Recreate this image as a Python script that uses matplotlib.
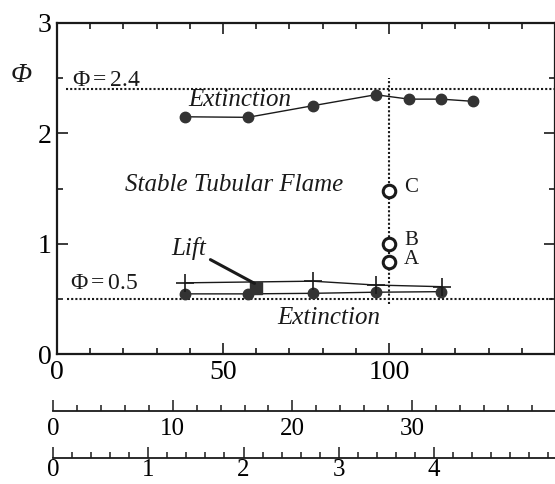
import matplotlib
matplotlib.use("Agg")
import matplotlib.pyplot as plt
from matplotlib.ticker import MultipleLocator

plt.rcParams['font.family'] = ['Liberation Serif', 'DejaVu Serif']
plt.rcParams['mathtext.fontset'] = 'custom'
plt.rcParams['mathtext.rm'] = 'Liberation Serif'
plt.rcParams['mathtext.it'] = 'Liberation Serif:italic'

# ---- data ----
upper_x = [38.5, 57.5, 77, 96, 106, 115.7, 125.3]
upper_phi = [2.15, 2.145, 2.25, 2.35, 2.31, 2.31, 2.29]

lower_x = [38.5, 57.5, 77, 96, 115.7]
lower_phi = [0.545, 0.545, 0.55, 0.56, 0.565]

lift_x = [38.5, 77, 96, 116]
lift_phi = [0.645, 0.66, 0.625, 0.61]

lift_pt_x = [60]
lift_pt_phi = [0.6]

abc_x = [100, 100, 100]
abc_phi = [0.83, 1.0, 1.48]
abc_labels = ['A', 'B', 'C']

phi_rich = 2.4
phi_lean = 0.5

main_xticks = [0, 50, 100]
sec1_xticks = [0, 10, 20, 30]
sec2_xticks = [0, 1, 2, 3, 4]

W, H = 555, 484
fig = plt.figure(figsize=(W / 100, H / 100), dpi=100)
ink = '#1a1a1a'

def fx(px):
    return px / W

def fy(py):
    return 1 - py / H

ax = fig.add_axes([fx(57), fy(354), fx(555 - 57), (354 - 23) / H])
ax.set_xlim(0, 150)
ax.set_ylim(0, 3)
for s in ax.spines.values():
    s.set_linewidth(1.6)
    s.set_color(ink)

ax.xaxis.set_major_locator(MultipleLocator(50))
ax.xaxis.set_minor_locator(MultipleLocator(10))
ax.yaxis.set_major_locator(MultipleLocator(1))
ax.yaxis.set_minor_locator(MultipleLocator(0.5))
ax.tick_params(which='both', direction='in', top=True, right=True, color=ink, width=1.2)
ax.tick_params(which='major', length=8)
ax.tick_params(which='minor', length=4)
ax.tick_params(axis='x', which='major', labelsize=20, pad=4)
ax.tick_params(axis='y', which='major', labelsize=20, pad=4)
ax.set_xticks(main_xticks)
ax.set_xticklabels([str(t) for t in main_xticks])
ax.set_yticks([0, 1, 2, 3])

# reference lines
ax.plot([2.7, 150], [phi_rich, phi_rich], ls=(0, (1, 1)), lw=1.5, color=ink)
ax.plot([3, 150], [phi_lean, phi_lean], ls=(0, (1, 1)), lw=1.5, color=ink)
ax.plot([100, 100], [0.45, 2.5], ls=(0, (1, 1)), lw=1.5, color=ink)

# data
ax.plot(upper_x, upper_phi, '-o', color=ink, lw=1.0, ms=7.5, mfc='#333333', mec='#333333')
ax.plot(lower_x, lower_phi, '-o', color=ink, lw=1.0, ms=7.5, mfc='#333333', mec='#333333')
ax.plot(lift_x, lift_phi, '-+', color=ink, lw=1.0, ms=13, mew=1.2)
ax.plot(lift_pt_x, lift_pt_phi, 's', color='#333333', ms=9)
ax.plot(abc_x, abc_phi, 'o', mfc='white', mec=ink, mew=2.2, ms=9, ls='none')
for x, y, lab in zip(abc_x, abc_phi, abc_labels):
    ax.text(x + 4.5, y + 0.03, lab, fontsize=15, ha='left', va='center', color=ink)

# texts
ax.text(4.5, 2.48, r'$\Phi{=}\mathit{2.4}$', fontsize=17, ha='left', va='center', color=ink)
ax.text(3.8, 0.64, r'$\Phi{=}\mathit{0.5}$', fontsize=17, ha='left', va='center', color=ink)
ax.text(39.5, 2.3, 'Extinction', fontsize=18, style='italic', ha='left', va='center', color=ink)
ax.text(66.5, 0.33, 'Extinction', fontsize=18, style='italic', ha='left', va='center', color=ink)
ax.text(20.5, 1.53, 'Stable Tubular Flame', fontsize=18, style='italic', ha='left', va='center', color=ink)
ax.annotate('Lift', xy=(59.5, 0.64), xytext=(34.5, 0.96), fontsize=18, style='italic',
            ha='left', va='center', color=ink,
            arrowprops=dict(arrowstyle='-', lw=2.2, color=ink, shrinkA=1, shrinkB=0))
fig.text(fx(21), fy(75), 'Φ', fontsize=20, style='italic', ha='center', va='center', color=ink)

# secondary scales
def sec_axis(ypx, xmax, major, minor, ticks, pad):
    a = fig.add_axes([fx(53), fy(ypx), fx(555 - 53), 0.001])
    a.set_xlim(0, xmax)
    a.set_ylim(0, 1)
    for k in ['left', 'right', 'top']:
        a.spines[k].set_visible(False)
    a.spines['bottom'].set_linewidth(1.3)
    a.spines['bottom'].set_color(ink)
    a.set_yticks([])
    a.xaxis.set_major_locator(MultipleLocator(major))
    a.xaxis.set_minor_locator(MultipleLocator(minor))
    a.tick_params(axis='x', which='both', direction='in', color=ink, width=1.1)
    a.tick_params(axis='x', which='major', length=8, labelsize=18, pad=pad)
    a.tick_params(axis='x', which='minor', length=4)
    a.set_xticks(ticks)
    a.set_xticklabels([str(t) for t in ticks])
    a.patch.set_visible(False)
    return a

sec_axis(411, 41.94, 10, 2, sec1_xticks, 5)
sec_axis(458, 5.27, 1, 0.2, sec2_xticks, 1)

fig.savefig('out.png', dpi=100)
